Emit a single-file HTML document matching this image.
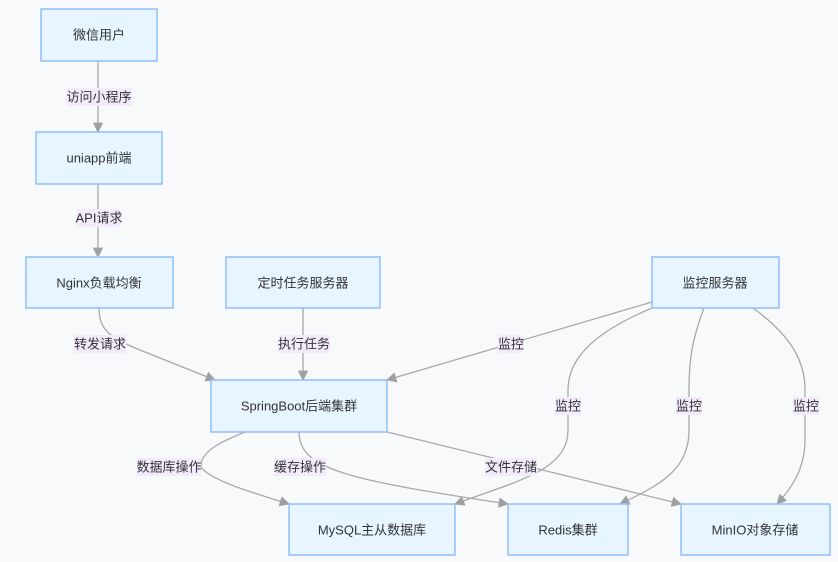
<!DOCTYPE html>
<html><head><meta charset="utf-8"><style>
body{margin:0;background:#f8f9fb;}
svg{display:block}
.n{fill:#e6f5ff;stroke:#90bff9;stroke-width:1.5}
.e{fill:none;stroke:#a9a9a9;stroke-width:1.3}
text{font-family:"Liberation Sans","Noto Sans CJK SC",sans-serif;font-size:13px;fill:#333;text-anchor:middle;dominant-baseline:central}
.lb{fill:#f3eafc}
</style></head><body>
<svg width="838" height="562" viewBox="0 0 838 562">
<defs><marker id="a" viewBox="0 0 10 10" refX="9" refY="5" markerWidth="8" markerHeight="8" orient="auto-start-reverse"><path d="M0,0L10,5L0,10z" fill="#a0a0a0"/></marker></defs>
<g class="e" marker-end="url(#a)">
<path d="M98,61V132"/>
<path d="M98,184V257"/>
<path d="M99,308C99,330 110,338 140,350L215,380"/>
<path d="M303,308V380"/>
<path d="M652,302L387,380"/>
<path d="M652,308C600,330 568,355 568,390V430C568,470 520,480 455,504"/>
<path d="M704,308C692,340 689,360 689,390V430C689,470 660,485 620,504"/>
<path d="M753,308C790,335 805,360 805,390V440C805,470 790,490 777,504"/>
<path d="M245,432C220,442 200,452 201,467C210,480 250,492 289,504"/>
<path d="M299,432C299,470 350,480 508,504"/>
<path d="M387,432L681,504"/>
</g>
<rect class="n" x="41" y="9" width="116" height="52"/><text x="99" y="35">微信用户</text>
<rect class="n" x="36" y="132" width="126" height="52"/><text x="99" y="158">uniapp前端</text>
<rect class="n" x="26" y="257" width="147" height="51"/><text x="99" y="283">Nginx负载均衡</text>
<rect class="n" x="226" y="257" width="154" height="51"/><text x="303" y="283">定时任务服务器</text>
<rect class="n" x="652" y="257" width="127" height="51"/><text x="715" y="283">监控服务器</text>
<rect class="n" x="211" y="380" width="176" height="52"/><text x="299" y="406">SpringBoot后端集群</text>
<rect class="n" x="289" y="504" width="166" height="51"/><text x="372" y="530">MySQL主从数据库</text>
<rect class="n" x="508" y="504" width="120" height="51"/><text x="568" y="530">Redis集群</text>
<rect class="n" x="681" y="504" width="149" height="51"/><text x="755" y="530">MinIO对象存储</text>
<g>
<rect class="lb" x="66" y="88" width="66" height="18"/><text x="99" y="97">访问小程序</text>
<rect class="lb" x="77" y="209" width="44" height="18"/><text x="99" y="218">API请求</text>
<rect class="lb" x="74" y="335" width="52" height="18"/><text x="100" y="344">转发请求</text>
<rect class="lb" x="278" y="335" width="52" height="18"/><text x="304" y="344">执行任务</text>
<rect class="lb" x="498" y="335" width="26" height="18"/><text x="511" y="344">监控</text>
<rect class="lb" x="555" y="397" width="26" height="18"/><text x="568" y="406">监控</text>
<rect class="lb" x="676" y="397" width="26" height="18"/><text x="689" y="406">监控</text>
<rect class="lb" x="793" y="397" width="26" height="18"/><text x="806" y="406">监控</text>
<rect class="lb" x="137" y="458" width="64" height="18"/><text x="169" y="467">数据库操作</text>
<rect class="lb" x="274" y="458" width="52" height="18"/><text x="300" y="467">缓存操作</text>
<rect class="lb" x="485" y="458" width="52" height="18"/><text x="511" y="467">文件存储</text>
</g>
</svg>
</body></html>
